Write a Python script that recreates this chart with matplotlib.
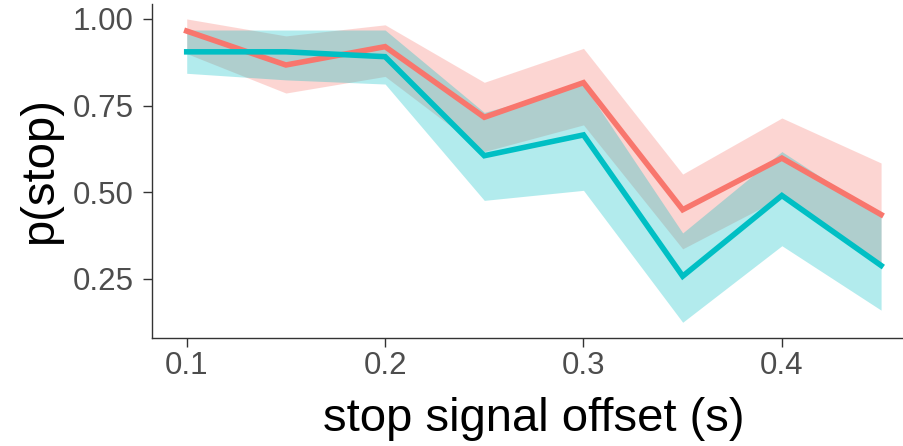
import matplotlib
matplotlib.use("Agg")
import matplotlib.pyplot as plt

plt.rcParams['font.family'] = ['Liberation Sans', 'DejaVu Sans']

# stop-signal offsets (s)
offset = [0.10, 0.15, 0.20, 0.25, 0.30, 0.35, 0.40, 0.45]

# group A (red)
red_mean = [0.965, 0.867, 0.920, 0.716, 0.816, 0.449, 0.598, 0.435]
red_lo   = [0.900, 0.786, 0.834, 0.617, 0.694, 0.336, 0.485, 0.295]
red_hi   = [1.000, 0.951, 0.983, 0.817, 0.915, 0.552, 0.714, 0.584]

# group B (teal)
teal_mean = [0.905, 0.905, 0.891, 0.605, 0.665, 0.257, 0.490, 0.288]
teal_lo   = [0.843, 0.824, 0.812, 0.476, 0.505, 0.124, 0.345, 0.159]
teal_hi   = [0.968, 0.968, 0.968, 0.730, 0.810, 0.382, 0.617, 0.430]

xticks = [0.1, 0.2, 0.3, 0.4]
yticks = [0.25, 0.50, 0.75, 1.00]

RED = '#F8766D'
TEAL = '#00BFC4'

W, H = 904, 446
fig = plt.figure(figsize=(W / 100, H / 100), dpi=100)
ax_left, ax_right, ax_top, ax_bottom = 152, 915.8, 3.7, 337.5
ax = fig.add_axes([ax_left / W, 1 - ax_bottom / H,
                   (ax_right - ax_left) / W, (ax_bottom - ax_top) / H])

ax.fill_between(offset, red_lo, red_hi, color=RED, alpha=0.3, linewidth=0)
ax.fill_between(offset, teal_lo, teal_hi, color=TEAL, alpha=0.3, linewidth=0)
ax.plot(offset, red_mean, color=RED, linewidth=4.0, solid_joinstyle='miter')
ax.plot(offset, teal_mean, color=TEAL, linewidth=4.0, solid_joinstyle='miter')

ax.set_xlim(0.0825, 0.4675)
ax.set_ylim(0.080, 1.044)
ax.set_xticks(xticks)
ax.set_xticklabels([f'{v:.1f}' for v in xticks])
ax.set_yticks(yticks)
ax.set_yticklabels([f'{v:.2f}' for v in yticks])

for side in ('top', 'right'):
    ax.spines[side].set_visible(False)
for side in ('left', 'bottom'):
    ax.spines[side].set_color('#333333')
    ax.spines[side].set_linewidth(1.0)

ax.tick_params(axis='both', length=6.5, width=1.0, color='#333333',
               labelcolor='#4D4D4D', labelsize=22.5)
ax.tick_params(axis='x', pad=3.5)
ax.tick_params(axis='y', pad=6.5)

ax.set_xlabel('stop signal offset (s)', fontsize=34, color='black', va='center')
ax.xaxis.set_label_coords(0.5, -0.243)
ax.set_ylabel('p(stop)', fontsize=34, color='black', va='center')
ax.yaxis.set_label_coords(-0.1466, 0.5)

fig.savefig('out.png', dpi=100)
